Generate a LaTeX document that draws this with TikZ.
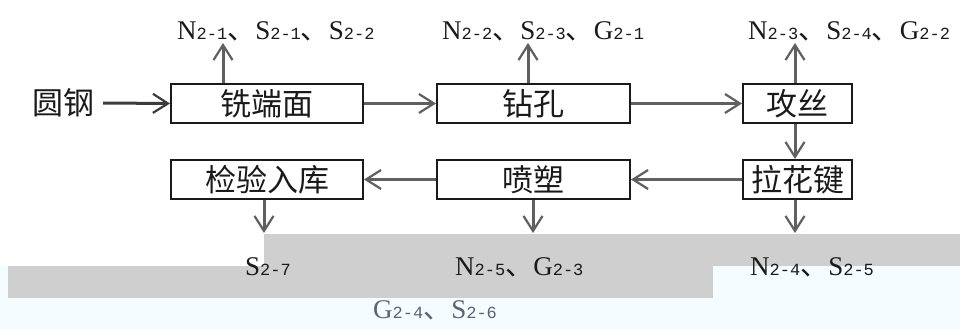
\documentclass[tikz,border=0pt]{standalone}
\usepackage{fontspec}
\setmainfont{Liberation Serif}
\newfontfamily\cjk{Noto Sans CJK SC}
\newfontfamily\subf{Liberation Mono}
\usetikzlibrary{arrows.meta}
\definecolor{ink}{HTML}{1A1A1A}
\definecolor{arrowgray}{HTML}{606060}
\definecolor{bandgray}{HTML}{CFCFCF}
\definecolor{paleblue}{HTML}{F5FCFF}
\definecolor{fadeink}{HTML}{5A6472}
\newcommand{\Lb}[2]{{\fontsize{27}{28}\selectfont #1}{\subf\fontsize{17}{18}\selectfont #2}}
\newcommand{\dun}{{\cjk\fontsize{28}{28}\selectfont 、}}
\tikzset{
  stepbox/.style={draw=ink, line width=2pt, inner sep=0pt, minimum height=39pt,
    font=\cjk\fontsize{31}{32}\selectfont, text=ink},
  arr/.style={draw=arrowgray, line width=3pt,
    -{Straight Barb[length=15pt,width=19pt,line width=2.2pt]}},
  darr/.style={arr, draw=ink!85},
  lab/.style={anchor=base west, inner sep=0pt, text=ink},
}
\begin{document}
\begin{tikzpicture}[x=1pt,y=-1pt]
% background and band
\fill[white] (0,0) rectangle (960,329);
\useasboundingbox (0,0) rectangle (960,329);
\fill[paleblue] (0,266) rectangle (960,329);
\fill[bandgray] (264,234) rectangle (960,266);
\fill[bandgray] (8,266) rectangle (713,298);

% input
\node[text=ink, font=\cjk\fontsize{31}{32}\selectfont, inner sep=0pt] (yg) at (63,103) {圆钢};

% process boxes
\node[stepbox, minimum width=192pt] (b1) at (267,103.5) {铣端面};
\node[stepbox, minimum width=193pt] (b2) at (533.5,103.5) {钻孔};
\node[stepbox, minimum width=109pt] (b3) at (797.5,103.5) {攻丝};
\node[stepbox, minimum width=109pt] (b4) at (797.5,179.5) {拉花键};
\node[stepbox, minimum width=193pt] (b5) at (533.5,179.5) {喷塑};
\node[stepbox, minimum width=192pt] (b6) at (267,179.5) {检验入库};

% emission labels
\node[lab] (l1) at (177,40) {\Lb{N}{2-1}\dun\Lb{S}{2-1}\dun\Lb{S}{2-2}};
\node[lab] (l2) at (442,40) {\Lb{N}{2-2}\dun\Lb{S}{2-3}\dun\Lb{G}{2-1}};
\node[lab] (l3) at (748,40) {\Lb{N}{2-3}\dun\Lb{S}{2-4}\dun\Lb{G}{2-2}};
\node[lab] (l6) at (245,275) {\Lb{S}{2-7}};
\node[lab] (l5) at (455,275) {\Lb{N}{2-5}\dun\Lb{G}{2-3}};
\node[lab] (l4) at (750,275) {\Lb{N}{2-4}\dun\Lb{S}{2-5}};
\node[lab, text=fadeink] (l5b) at (373,318) {\Lb{G}{2-4}\dun\Lb{S}{2-6}};

% arrow end points
\coordinate (u1) at (223,43);
\coordinate (u2) at (528,43);
\coordinate (u3) at (795,43);
\coordinate (d6) at (264,233);
\coordinate (d5) at (533,233);
\coordinate (d4) at (795,233);

% main flow
\draw[darr] ([xshift=9pt]yg.east) -- (b1.west);
\draw[arr] (b1.east) -- (b2.west);
\draw[arr] (b2.east) -- (b3.west);
\draw[arr] (b3.south -| u3) -- (b4.north -| u3);
\draw[arr] (b4.west) -- (b5.east);
\draw[arr] (b5.west) -- (b6.east);

% emissions
\draw[arr] (b1.north -| u1) -- (u1);
\draw[arr] (b2.north -| u2) -- (u2);
\draw[arr] (b3.north -| u3) -- (u3);
\draw[arr] (b6.south -| d6) -- (d6);
\draw[arr] (b5.south -| d5) -- (d5);
\draw[arr] (b4.south -| d4) -- (d4);
\end{tikzpicture}
\end{document}
